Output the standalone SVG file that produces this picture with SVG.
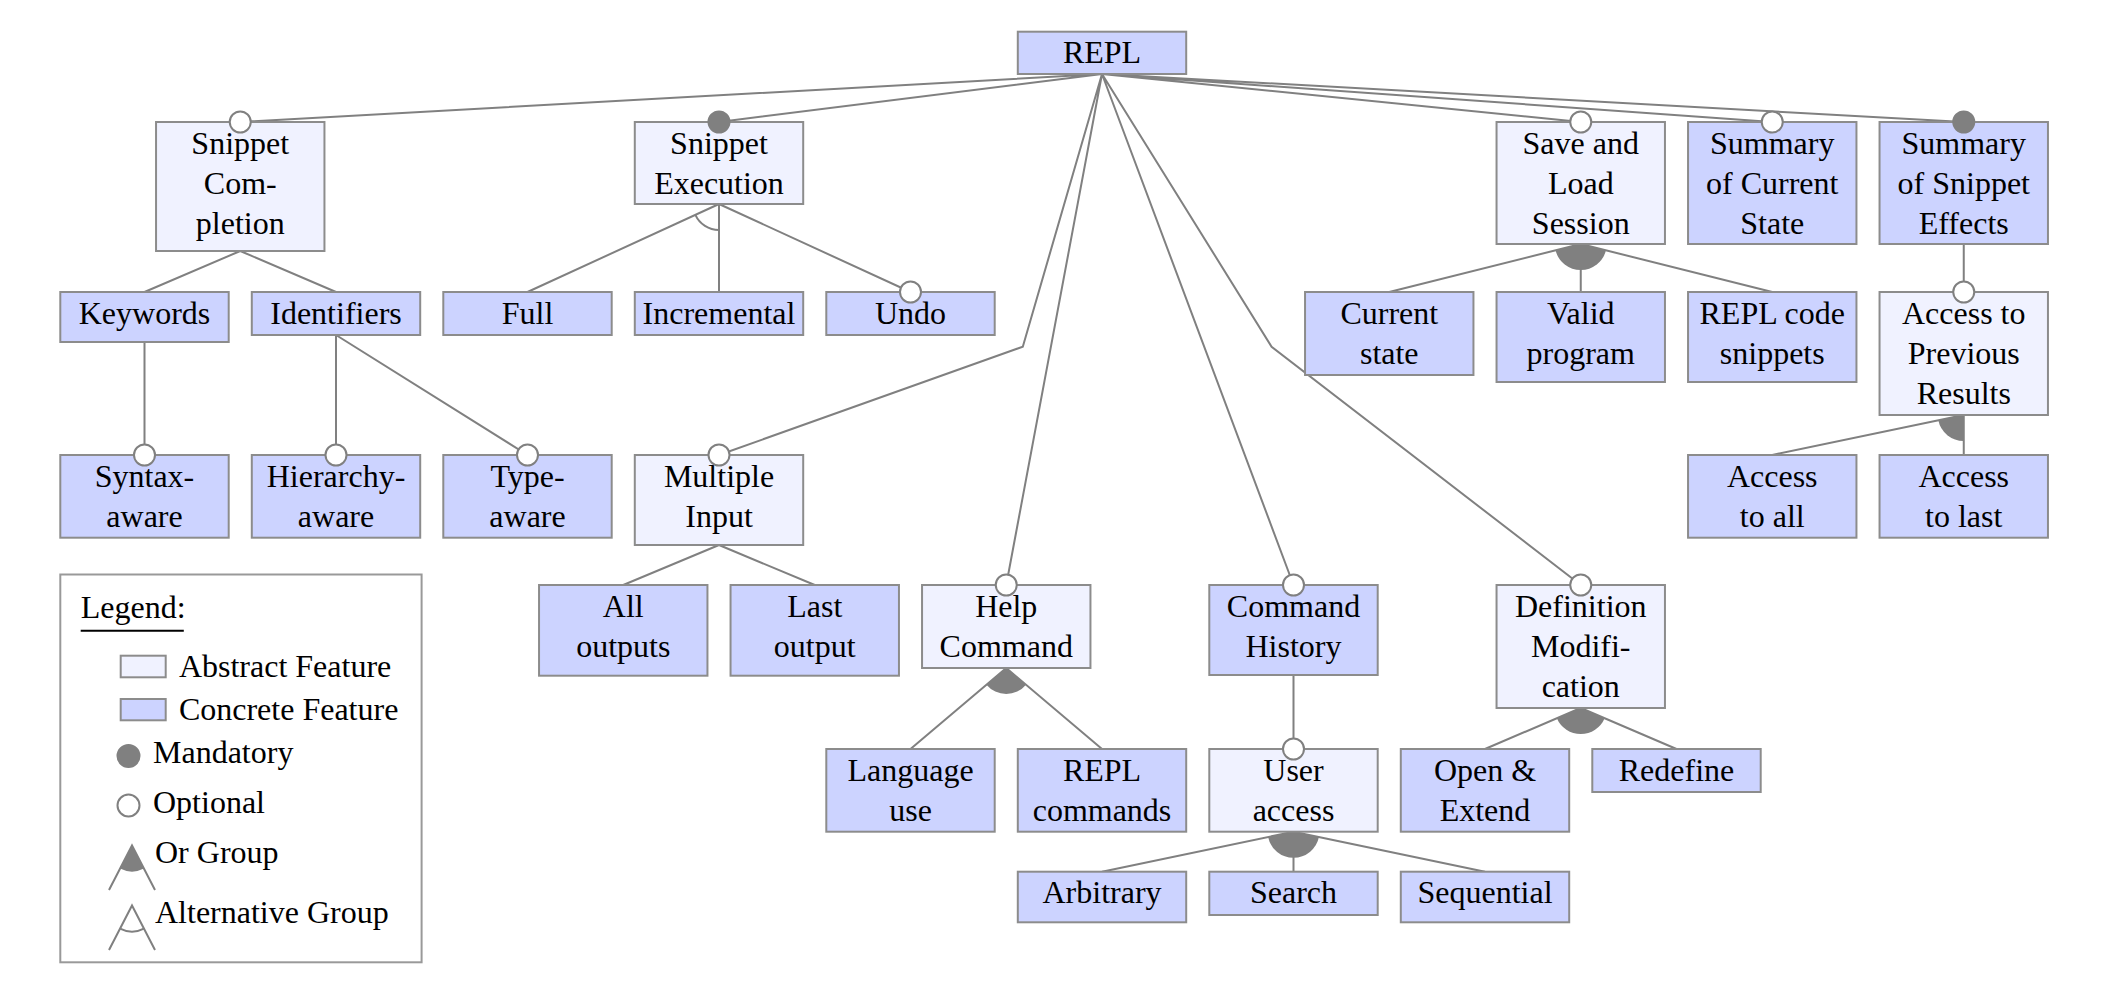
<svg xmlns="http://www.w3.org/2000/svg" width="2106" height="985" viewBox="0 0 2106 985">
<style>
.c{fill:#ccd3ff;stroke:#8c8c8c;stroke-width:2}
.a{fill:#f0f2ff;stroke:#8c8c8c;stroke-width:2}
.t{font-family:"Liberation Serif",serif;font-size:32px;text-anchor:middle;fill:#000}
.l{font-family:"Liberation Serif",serif;font-size:32px;fill:#000}
.e{stroke:#808080;stroke-width:2;fill:none}
.opt{fill:#fff;stroke:#808080;stroke-width:2}
.man{fill:#808080;stroke:#808080;stroke-width:2}
.or{fill:#808080;stroke:none}
</style>
<rect width="2106" height="985" fill="#fff"/>
<g id="connectors">
<path class="e" d="M1102 74L240.25 122M1102 74L719 122M1102 74L1022.8 346.7L719 455M1102 74L1006.25 585M1102 74L1293.5 585M1102 74L1271.6 346.7L1580.75 585M1102 74L1580.75 122M1102 74L1772.25 122M1102 74L1963.75 122"/>
<path class="e" d="M240.25 251L144.5 292M240.25 251L336 292M144.5 342L144.5 455M336 335L336 455M336 335L527.5 455"/>
<path class="e" d="M719 204L527.5 292M719 204L719 292M719 204L910.5 292"/>
<path class="e" d="M695.37 214.86A26 26 0 0 0 719 230"/>
<path class="e" d="M1580.75 244L1389.25 292M1580.75 244L1580.75 292M1580.75 244L1772.25 292"/>
<path class="or" d="M1580.75 244L1605.97 250.32A26 26 0 0 1 1555.53 250.32Z"/>
<path class="e" d="M1963.75 244L1963.75 292M1963.75 415L1772.25 455M1963.75 415L1963.75 455"/>
<path class="or" d="M1963.75 415L1963.75 441A26 26 0 0 1 1938.3 420.32Z"/>
<path class="e" d="M719 545L623.25 585M719 545L814.75 585"/>
<path class="e" d="M1006.25 668L910.5 749M1006.25 668L1102 749"/>
<path class="or" d="M1006.25 668L1026.1 684.79A26 26 0 0 1 986.4 684.79Z"/>
<path class="e" d="M1293.5 675L1293.5 749M1293.5 831.7L1102 871.7M1293.5 831.7L1293.5 871.7M1293.5 831.7L1485 871.7"/>
<path class="or" d="M1293.5 831.7L1318.95 837.02A26 26 0 0 1 1268.05 837.02Z"/>
<path class="e" d="M1580.75 708L1485 749M1580.75 708L1676.5 749"/>
<path class="or" d="M1580.75 708L1604.65 718.23A26 26 0 0 1 1556.85 718.23Z"/>
</g>
<g id="n-repl"><rect class="c" x="1017.8" y="31.7" width="168.4" height="42.3"/><text class="t" x="1102" y="63">REPL</text></g>
<g id="n-snippet-completion"><rect class="a" x="156.05" y="122" width="168.4" height="129"/><text class="t"><tspan x="240.25" y="153.5">Snippet</tspan><tspan x="240.25" y="193.5">Com-</tspan><tspan x="240.25" y="233.5">pletion</tspan></text></g>
<g id="n-snippet-execution"><rect class="a" x="634.8" y="122" width="168.4" height="82"/><text class="t"><tspan x="719" y="153.5">Snippet</tspan><tspan x="719" y="193.5">Execution</tspan></text></g>
<g id="n-save-load"><rect class="a" x="1496.55" y="122" width="168.4" height="122"/><text class="t"><tspan x="1580.75" y="153.5">Save and</tspan><tspan x="1580.75" y="193.5">Load</tspan><tspan x="1580.75" y="233.5">Session</tspan></text></g>
<g id="n-summary-state"><rect class="c" x="1688.05" y="122" width="168.4" height="122"/><text class="t"><tspan x="1772.25" y="153.5">Summary</tspan><tspan x="1772.25" y="193.5">of Current</tspan><tspan x="1772.25" y="233.5">State</tspan></text></g>
<g id="n-summary-effects"><rect class="c" x="1879.55" y="122" width="168.4" height="122"/><text class="t"><tspan x="1963.75" y="153.5">Summary</tspan><tspan x="1963.75" y="193.5">of Snippet</tspan><tspan x="1963.75" y="233.5">Effects</tspan></text></g>
<g id="n-keywords"><rect class="c" x="60.3" y="292" width="168.4" height="50"/><text class="t" x="144.5" y="323.5">Keywords</text></g>
<g id="n-identifiers"><rect class="c" x="251.8" y="292" width="168.4" height="43"/><text class="t" x="336" y="323.5">Identifiers</text></g>
<g id="n-full"><rect class="c" x="443.3" y="292" width="168.4" height="43"/><text class="t" x="527.5" y="323.5">Full</text></g>
<g id="n-incremental"><rect class="c" x="634.8" y="292" width="168.4" height="43"/><text class="t" x="719" y="323.5">Incremental</text></g>
<g id="n-undo"><rect class="c" x="826.3" y="292" width="168.4" height="43"/><text class="t" x="910.5" y="323.5">Undo</text></g>
<g id="n-current-state"><rect class="c" x="1305.05" y="292" width="168.4" height="83"/><text class="t"><tspan x="1389.25" y="323.5">Current</tspan><tspan x="1389.25" y="363.5">state</tspan></text></g>
<g id="n-valid-program"><rect class="c" x="1496.55" y="292" width="168.4" height="90"/><text class="t"><tspan x="1580.75" y="323.5">Valid</tspan><tspan x="1580.75" y="363.5">program</tspan></text></g>
<g id="n-repl-code"><rect class="c" x="1688.05" y="292" width="168.4" height="90"/><text class="t"><tspan x="1772.25" y="323.5">REPL code</tspan><tspan x="1772.25" y="363.5">snippets</tspan></text></g>
<g id="n-access-prev"><rect class="a" x="1879.55" y="292" width="168.4" height="123"/><text class="t"><tspan x="1963.75" y="323.5">Access to</tspan><tspan x="1963.75" y="363.5">Previous</tspan><tspan x="1963.75" y="403.5">Results</tspan></text></g>
<g id="n-syntax-aware"><rect class="c" x="60.3" y="455" width="168.4" height="82.7"/><text class="t"><tspan x="144.5" y="486.5">Syntax-</tspan><tspan x="144.5" y="526.5">aware</tspan></text></g>
<g id="n-hierarchy-aware"><rect class="c" x="251.8" y="455" width="168.4" height="82.7"/><text class="t"><tspan x="336" y="486.5">Hierarchy-</tspan><tspan x="336" y="526.5">aware</tspan></text></g>
<g id="n-type-aware"><rect class="c" x="443.3" y="455" width="168.4" height="82.7"/><text class="t"><tspan x="527.5" y="486.5">Type-</tspan><tspan x="527.5" y="526.5">aware</tspan></text></g>
<g id="n-multiple-input"><rect class="a" x="634.8" y="455" width="168.4" height="90"/><text class="t"><tspan x="719" y="486.5">Multiple</tspan><tspan x="719" y="526.5">Input</tspan></text></g>
<g id="n-access-all"><rect class="c" x="1688.05" y="455" width="168.4" height="82.7"/><text class="t"><tspan x="1772.25" y="486.5">Access</tspan><tspan x="1772.25" y="526.5">to all</tspan></text></g>
<g id="n-access-last"><rect class="c" x="1879.55" y="455" width="168.4" height="82.7"/><text class="t"><tspan x="1963.75" y="486.5">Access</tspan><tspan x="1963.75" y="526.5">to last</tspan></text></g>
<g id="n-all-outputs"><rect class="c" x="539.05" y="585" width="168.4" height="90.7"/><text class="t"><tspan x="623.25" y="616.5">All</tspan><tspan x="623.25" y="656.5">outputs</tspan></text></g>
<g id="n-last-output"><rect class="c" x="730.55" y="585" width="168.4" height="90.7"/><text class="t"><tspan x="814.75" y="616.5">Last</tspan><tspan x="814.75" y="656.5">output</tspan></text></g>
<g id="n-help-command"><rect class="a" x="922.05" y="585" width="168.4" height="83"/><text class="t"><tspan x="1006.25" y="616.5">Help</tspan><tspan x="1006.25" y="656.5">Command</tspan></text></g>
<g id="n-command-history"><rect class="c" x="1209.3" y="585" width="168.4" height="90"/><text class="t"><tspan x="1293.5" y="616.5">Command</tspan><tspan x="1293.5" y="656.5">History</tspan></text></g>
<g id="n-definition-modification"><rect class="a" x="1496.55" y="585" width="168.4" height="123"/><text class="t"><tspan x="1580.75" y="616.5">Definition</tspan><tspan x="1580.75" y="656.5">Modifi-</tspan><tspan x="1580.75" y="696.5">cation</tspan></text></g>
<g id="n-language-use"><rect class="c" x="826.3" y="749" width="168.4" height="82.7"/><text class="t"><tspan x="910.5" y="780.5">Language</tspan><tspan x="910.5" y="820.5">use</tspan></text></g>
<g id="n-repl-commands"><rect class="c" x="1017.8" y="749" width="168.4" height="82.7"/><text class="t"><tspan x="1102" y="780.5">REPL</tspan><tspan x="1102" y="820.5">commands</tspan></text></g>
<g id="n-user-access"><rect class="a" x="1209.3" y="749" width="168.4" height="82.7"/><text class="t"><tspan x="1293.5" y="780.5">User</tspan><tspan x="1293.5" y="820.5">access</tspan></text></g>
<g id="n-open-extend"><rect class="c" x="1400.8" y="749" width="168.4" height="82.7"/><text class="t"><tspan x="1485" y="780.5">Open &amp;</tspan><tspan x="1485" y="820.5">Extend</tspan></text></g>
<g id="n-redefine"><rect class="c" x="1592.3" y="749" width="168.4" height="43"/><text class="t" x="1676.5" y="780.5">Redefine</text></g>
<g id="n-arbitrary"><rect class="c" x="1017.8" y="871.7" width="168.4" height="50.6"/><text class="t" x="1102" y="903.2">Arbitrary</text></g>
<g id="n-search"><rect class="c" x="1209.3" y="871.7" width="168.4" height="43.3"/><text class="t" x="1293.5" y="903.2">Search</text></g>
<g id="n-sequential"><rect class="c" x="1400.8" y="871.7" width="168.4" height="50.6"/><text class="t" x="1485" y="903.2">Sequential</text></g>
<g id="markers">
<circle class="opt" cx="240.25" cy="122" r="10.5"/>
<circle class="man" cx="719" cy="122" r="10.5"/>
<circle class="opt" cx="1580.75" cy="122" r="10.5"/>
<circle class="opt" cx="1772.25" cy="122" r="10.5"/>
<circle class="man" cx="1963.75" cy="122" r="10.5"/>
<circle class="opt" cx="910.5" cy="292" r="10.5"/>
<circle class="opt" cx="1963.75" cy="292" r="10.5"/>
<circle class="opt" cx="144.5" cy="455" r="10.5"/>
<circle class="opt" cx="336" cy="455" r="10.5"/>
<circle class="opt" cx="527.5" cy="455" r="10.5"/>
<circle class="opt" cx="719" cy="455" r="10.5"/>
<circle class="opt" cx="1006.25" cy="585" r="10.5"/>
<circle class="opt" cx="1293.5" cy="585" r="10.5"/>
<circle class="opt" cx="1580.75" cy="585" r="10.5"/>
<circle class="opt" cx="1293.5" cy="749" r="10.5"/>
</g>
<g id="legend">
<rect x="60.3" y="574.5" width="361.3" height="387.8" fill="#fff" stroke="#999" stroke-width="2"/>
<text class="l" x="80.7" y="617.5">Legend:</text>
<line x1="80.7" y1="630.7" x2="183.8" y2="630.7" stroke="#000" stroke-width="2"/>
<rect class="a" x="120.7" y="655.7" width="45" height="21.6"/>
<text class="l" x="178.9" y="676.5">Abstract Feature</text>
<rect class="c" x="120.7" y="699" width="45" height="21.3"/>
<text class="l" x="178.9" y="719.5">Concrete Feature</text>
<circle class="man" cx="128.5" cy="756" r="11"/>
<text class="l" x="153" y="763">Mandatory</text>
<circle class="opt" cx="128.5" cy="805.5" r="11"/>
<text class="l" x="153" y="813">Optional</text>
<path class="e" d="M109 890L132 845.5L155 890"/>
<path class="or" d="M132 845.5L143.93 868.59A26 26 0 0 1 120.07 868.59Z"/>
<text class="l" x="155" y="862.5">Or Group</text>
<path class="e" d="M109 950L132 905.5L155 950"/>
<path class="e" d="M143.93 928.59A26 26 0 0 1 120.07 928.59"/>
<text class="l" x="155" y="923">Alternative Group</text>
</g>
</svg>
